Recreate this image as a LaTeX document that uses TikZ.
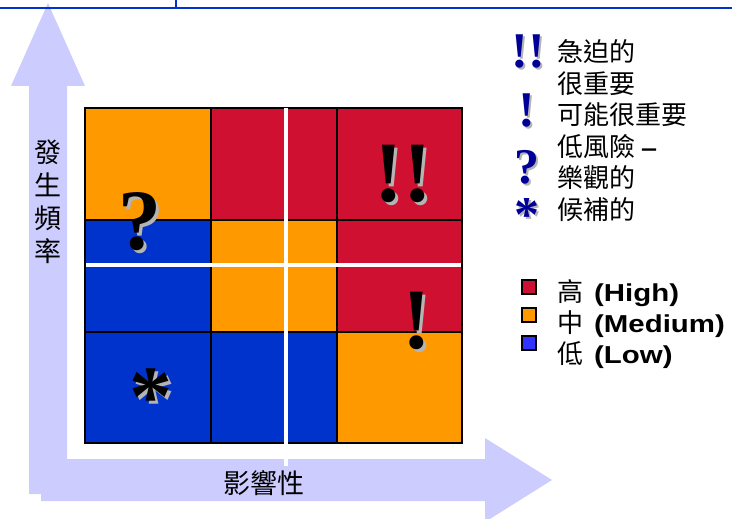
\documentclass[tikz,border=0pt]{standalone}
\usepackage{fontspec}
\newfontfamily\cjk{Noto Sans CJK TC}
\newfontfamily\lat[FakeStretch=1.2]{Liberation Sans}
\newfontfamily\serifb{Liberation Serif}
\definecolor{lav}{HTML}{CCCCFF}
\definecolor{cor}{HTML}{FF9900}
\definecolor{cred}{HTML}{CF1030}
\definecolor{cblue}{HTML}{0033CC}
\definecolor{lred}{HTML}{CC1133}
\definecolor{lblue}{HTML}{3333FF}
\definecolor{navy}{HTML}{000099}
\definecolor{shadow}{HTML}{B4B4B4}
% glyph with a grey drop shadow, offset #1 right and down
\newcommand\shadsym[2]{\makebox[0pt][l]{\hspace{#1}\smash{\raisebox{-#1}{\textcolor{shadow}{#2}}}}#2}
\begin{document}
\begin{tikzpicture}[x=1pt,y=-1pt,
  bigsym/.style={inner sep=0pt, font=\serifb\bfseries\fontsize{86}{86}\selectfont},
  smallsym/.style={inner sep=0pt, text=navy, font=\serifb\bfseries\fontsize{50}{50}\selectfont},
  legtext/.style={inner sep=0pt, anchor=west, font=\cjk\fontsize{26}{26}\selectfont},
  axtext/.style={inner sep=0pt, font=\cjk\fontsize{27}{33}\selectfont},
  swatch/.style={draw=black, line width=2pt, minimum size=14pt, inner sep=0pt},
  gridline/.style={black, line width=2pt},
  whiteline/.style={white, line width=4pt}]
\useasboundingbox (0,0) rectangle (732,519);
\clip (0,0) rectangle (732,519);
% arrows
\fill[lav] (29,494) -- (29,86) -- (11,86) -- (48,3) -- (85,86) -- (67,86) -- (67,494) -- cycle;
\fill[lav] (41,459) -- (485,459) -- (485,438) -- (552,480) -- (485,522) -- (485,501) -- (41,501) -- cycle;
% top rule
\draw[cblue, line width=2.5pt] (0,8) -- (732,8);
\draw[cblue, line width=2pt] (176,0) -- (176,8);
% cells
\fill[cor]   (85,108) rectangle (211,220);
\fill[cred]  (211,108) rectangle (337,220);
\fill[cred]  (337,108) rectangle (462,220);
\fill[cblue] (85,220) rectangle (211,332);
\fill[cor]   (211,220) rectangle (337,332);
\fill[cred]  (337,220) rectangle (462,332);
\fill[cblue] (85,332) rectangle (211,443);
\fill[cblue] (211,332) rectangle (337,443);
\fill[cor]   (337,332) rectangle (462,443);
\draw[gridline] (85,108) rectangle (462,443);
\draw[gridline] (211,108) -- (211,443) (337,108) -- (337,443);
\draw[gridline] (85,220) -- (462,220) (85,332) -- (462,332);
\draw[whiteline] (286,108) -- (286,466);
\draw[whiteline] (86,265) -- (461,265);
% grid symbols
\node[bigsym] (q) at (140,222) {\shadsym{3pt}{?}};
\node[bigsym] (ee) at (403,174) {\shadsym{3pt}{!!}};
\node[bigsym] (e) at (417,321) {\shadsym{3pt}{!}};
\node[bigsym, anchor=base] (s) at (151,425) {\shadsym{3pt}{*}};
% axis labels
\node[axtext, align=center] (freq) at (48,202) {發\\生\\頻\\率};
\node[axtext] (impact) at (264,483) {影響性};
% legend symbols
\node[smallsym] (l1) at (528,51) {\shadsym{2pt}{!!}};
\node[smallsym] (l2) at (527,110) {\shadsym{2pt}{!}};
\node[smallsym] (l3) at (527,167) {\shadsym{2pt}{?}};
\node[smallsym, anchor=base] (l4) at (527,231) {\shadsym{2pt}{*}};
% legend texts
\node[legtext] (t1) at (557,52) {急迫的};
\node[legtext] (t2) at (557,84) {很重要};
\node[legtext] (t3) at (557,115) {可能很重要};
\node[legtext] (t4) at (557,147) {低風險\hspace{6pt}{\lat\bfseries\fontsize{24}{24}\selectfont –}};
\node[legtext] (t5) at (557,178) {樂觀的};
\node[legtext] (t6) at (557,210) {候補的};
% colour legend
\node[swatch, fill=lred] (sw1) at (529,287) {};
\node[swatch, fill=cor] (sw2) at (529,315) {};
\node[swatch, fill=lblue] (sw3) at (529,343) {};
\node[legtext] (c1) at (557,293) {高\hspace{11pt}{\lat\bfseries\fontsize{24.5}{24.5}\selectfont (High)}};
\node[legtext] (c2) at (557,324) {中\hspace{11pt}{\lat\bfseries\fontsize{24.5}{24.5}\selectfont (Medium)}};
\node[legtext] (c3) at (557,355) {低\hspace{11pt}{\lat\bfseries\fontsize{24.5}{24.5}\selectfont (Low)}};
\end{tikzpicture}
\end{document}
